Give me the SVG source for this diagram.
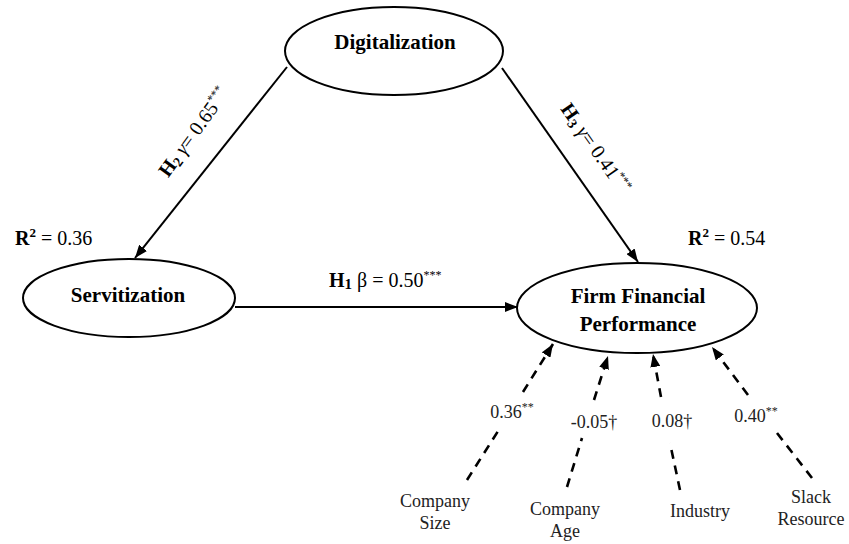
<svg xmlns="http://www.w3.org/2000/svg" width="849" height="544" viewBox="0 0 849 544" font-family="'Liberation Serif', 'DejaVu Serif', serif">
<defs>
<marker id="ah" markerUnits="userSpaceOnUse" markerWidth="14" markerHeight="10" refX="13" refY="5" orient="auto">
<path d="M0,0 L13,5 L0,10 z" fill="#000"/>
</marker>
<style>
text{font-family:'Liberation Serif', 'DejaVu Serif', serif}
.node ellipse{fill:#fff;stroke:#000;stroke-width:2}
.nt{font-weight:bold;font-size:21px;text-anchor:middle;fill:#000}
.lbl{font-size:20px;fill:#000}
.sm{font-size:18px;fill:#222;text-anchor:middle}
.solid{stroke:#000;stroke-width:2;fill:none}
.dash{stroke:#000;stroke-width:2.6;fill:none;stroke-dasharray:9 7}
.sup{font-size:12px}
</style>
</defs>
<rect width="849" height="544" fill="#fff"/>
<g id="connectors">
<line class="solid" x1="287" y1="67" x2="135" y2="258" marker-end="url(#ah)"/>
<line class="solid" x1="502" y1="68" x2="638" y2="262" marker-end="url(#ah)"/>
<line class="solid" x1="235" y1="307" x2="518" y2="307" marker-end="url(#ah)"/>
<line class="dash" x1="467" y1="480" x2="500" y2="428"/>
<line class="dash" x1="523" y1="392" x2="553" y2="344" marker-end="url(#ah)"/>
<line class="dash" x1="567" y1="487" x2="582" y2="438"/>
<line class="dash" x1="594" y1="400" x2="608" y2="356" marker-end="url(#ah)"/>
<line class="dash" x1="680" y1="490" x2="670" y2="443"/>
<line class="dash" x1="661" y1="397" x2="653" y2="354" marker-end="url(#ah)"/>
<line class="dash" x1="812" y1="478" x2="777" y2="433"/>
<line class="dash" x1="748" y1="395" x2="712" y2="347" marker-end="url(#ah)"/>
</g>
<g id="edge-labels">
<text class="lbl" transform="translate(199,136) rotate(-54)" text-anchor="middle"><tspan font-weight="bold">H</tspan><tspan font-weight="bold" font-size="14" dy="3">2</tspan><tspan dy="-3"> </tspan><tspan font-style="italic">γ</tspan>= 0.65<tspan class="sup" dy="-8">***</tspan></text>
<text class="lbl" transform="translate(590,152) rotate(55)" text-anchor="middle"><tspan font-weight="bold">H</tspan><tspan font-weight="bold" font-size="14" dy="3">3</tspan><tspan dy="-3"> </tspan><tspan font-style="italic">γ</tspan>= 0.41<tspan class="sup" dy="-8">***</tspan></text>
<text class="lbl" x="329" y="287"><tspan font-weight="bold">H</tspan><tspan font-weight="bold" font-size="15" dy="2">1</tspan><tspan dy="-2"> β = 0.50</tspan><tspan class="sup" dy="-8">***</tspan></text>
<text class="lbl" x="15" y="245"><tspan font-weight="bold">R</tspan><tspan font-weight="bold" font-size="13" dy="-8">2</tspan><tspan dy="8"> = 0.36</tspan></text>
<text class="lbl" x="688" y="245"><tspan font-weight="bold">R</tspan><tspan font-weight="bold" font-size="13" dy="-8">2</tspan><tspan dy="8"> = 0.54</tspan></text>
<text class="sm" x="512" y="418">0.36<tspan class="sup" dy="-7">**</tspan></text>
<text class="sm" x="594" y="428">-0.05†</text>
<text class="sm" x="672" y="427">0.08†</text>
<text class="sm" x="756" y="422">0.40<tspan class="sup" dy="-7">**</tspan></text>
</g>
<g id="digitalization" class="node">
<ellipse cx="394" cy="51" rx="109" ry="44"/>
<text class="nt" x="395" y="49">Digitalization</text>
</g>
<g id="servitization" class="node">
<ellipse cx="129" cy="298" rx="106" ry="39"/>
<text class="nt" x="128" y="302">Servitization</text>
</g>
<g id="ffp" class="node">
<ellipse cx="637" cy="308" rx="120" ry="45"/>
<text class="nt" x="638" y="303">Firm Financial</text>
<text class="nt" x="638" y="331">Performance</text>
</g>
<g id="company-size">
<text class="sm" x="435" y="507">Company</text>
<text class="sm" x="435" y="529">Size</text>
</g>
<g id="company-age">
<text class="sm" x="565" y="515">Company</text>
<text class="sm" x="565" y="537">Age</text>
</g>
<g id="industry">
<text class="sm" x="700" y="517">Industry</text>
</g>
<g id="slack-resource">
<text class="sm" x="811" y="503">Slack</text>
<text class="sm" x="811" y="525">Resource</text>
</g>
</svg>
